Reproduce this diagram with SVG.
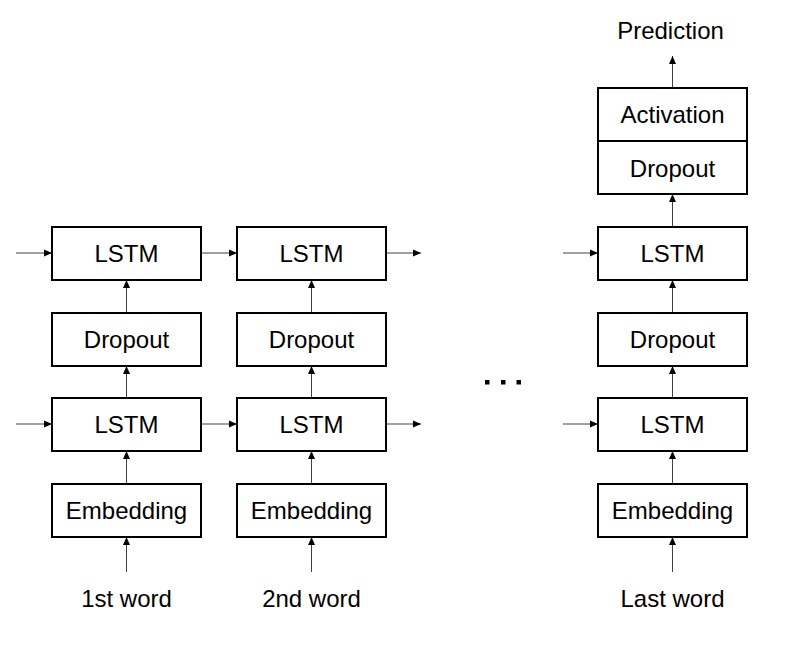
<svg xmlns="http://www.w3.org/2000/svg" width="793" height="655" viewBox="0 0 793 655">
<defs>
<marker id="ah" markerWidth="8" markerHeight="8" refX="8" refY="4" orient="auto" markerUnits="userSpaceOnUse">
<path d="M0,0.5 L8,4 L0,7.5 Z" fill="#000"/>
</marker>
<style>
.box{fill:#fff;stroke:#000;stroke-width:2}
.t{font-family:"Liberation Sans",Arial,sans-serif;font-size:24px;fill:#000;text-anchor:middle;dominant-baseline:central}
.c{stroke:#404040;stroke-width:1;fill:none;marker-end:url(#ah)}
</style>
</defs>
<rect width="793" height="655" fill="#fff"/>
<g id="connectors">
<line class="c" x1="16" y1="253" x2="52" y2="253"/>
<line class="c" x1="201" y1="253" x2="237" y2="253"/>
<line class="c" x1="386" y1="253" x2="421" y2="253"/>
<line class="c" x1="563" y1="253" x2="598" y2="253"/>
<line class="c" x1="16" y1="424" x2="52" y2="424"/>
<line class="c" x1="201" y1="424" x2="237" y2="424"/>
<line class="c" x1="386" y1="424" x2="421" y2="424"/>
<line class="c" x1="563" y1="424" x2="598" y2="424"/>
<line class="c" x1="126.5" y1="313" x2="126.5" y2="280"/>
<line class="c" x1="126.5" y1="398" x2="126.5" y2="366"/>
<line class="c" x1="126.5" y1="484" x2="126.5" y2="451"/>
<line class="c" x1="126.5" y1="572" x2="126.5" y2="537"/>
<line class="c" x1="311.5" y1="313" x2="311.5" y2="280"/>
<line class="c" x1="311.5" y1="398" x2="311.5" y2="366"/>
<line class="c" x1="311.5" y1="484" x2="311.5" y2="451"/>
<line class="c" x1="311.5" y1="572" x2="311.5" y2="537"/>
<line class="c" x1="672.5" y1="313" x2="672.5" y2="280"/>
<line class="c" x1="672.5" y1="398" x2="672.5" y2="366"/>
<line class="c" x1="672.5" y1="484" x2="672.5" y2="451"/>
<line class="c" x1="672.5" y1="572" x2="672.5" y2="537"/>
<line class="c" x1="672.5" y1="227" x2="672.5" y2="194"/>
<line class="c" x1="672.5" y1="88" x2="672.5" y2="56"/>
</g>
<g id="col1">
<g id="lstm1a"><rect class="box" x="52" y="227" width="149" height="53"/><text class="t" x="126.5" y="253">LSTM</text></g>
<g id="drop1"><rect class="box" x="52" y="313" width="149" height="53"/><text class="t" x="126.5" y="339">Dropout</text></g>
<g id="lstm1b"><rect class="box" x="52" y="398" width="149" height="53"/><text class="t" x="126.5" y="424">LSTM</text></g>
<g id="emb1"><rect class="box" x="52" y="484" width="149" height="53"/><text class="t" x="126.5" y="510">Embedding</text></g>
<text id="w1" class="t" x="126.5" y="598">1st word</text>
</g>
<g id="col2">
<g id="lstm2a"><rect class="box" x="237" y="227" width="149" height="53"/><text class="t" x="311.5" y="253">LSTM</text></g>
<g id="drop2"><rect class="box" x="237" y="313" width="149" height="53"/><text class="t" x="311.5" y="339">Dropout</text></g>
<g id="lstm2b"><rect class="box" x="237" y="398" width="149" height="53"/><text class="t" x="311.5" y="424">LSTM</text></g>
<g id="emb2"><rect class="box" x="237" y="484" width="149" height="53"/><text class="t" x="311.5" y="510">Embedding</text></g>
<text id="w2" class="t" x="311.5" y="598">2nd word</text>
</g>
<g id="dots" fill="#000">
<rect x="485" y="380" width="4.5" height="4.5"/>
<rect x="501" y="380" width="4.5" height="4.5"/>
<rect x="516.5" y="380" width="4.5" height="4.5"/>
</g>
<g id="col3">
<g id="act"><rect class="box" x="598" y="88" width="149" height="53"/><text class="t" x="672.5" y="114">Activation</text></g>
<g id="drop3top"><rect class="box" x="598" y="141" width="149" height="53"/><text class="t" x="672.5" y="168">Dropout</text></g>
<g id="lstm3a"><rect class="box" x="598" y="227" width="149" height="53"/><text class="t" x="672.5" y="253">LSTM</text></g>
<g id="drop3"><rect class="box" x="598" y="313" width="149" height="53"/><text class="t" x="672.5" y="339">Dropout</text></g>
<g id="lstm3b"><rect class="box" x="598" y="398" width="149" height="53"/><text class="t" x="672.5" y="424">LSTM</text></g>
<g id="emb3"><rect class="box" x="598" y="484" width="149" height="53"/><text class="t" x="672.5" y="510">Embedding</text></g>
<text id="w3" class="t" x="672.5" y="598">Last word</text>
<text id="pred" class="t" x="670.5" y="30">Prediction</text>
</g>
</svg>
